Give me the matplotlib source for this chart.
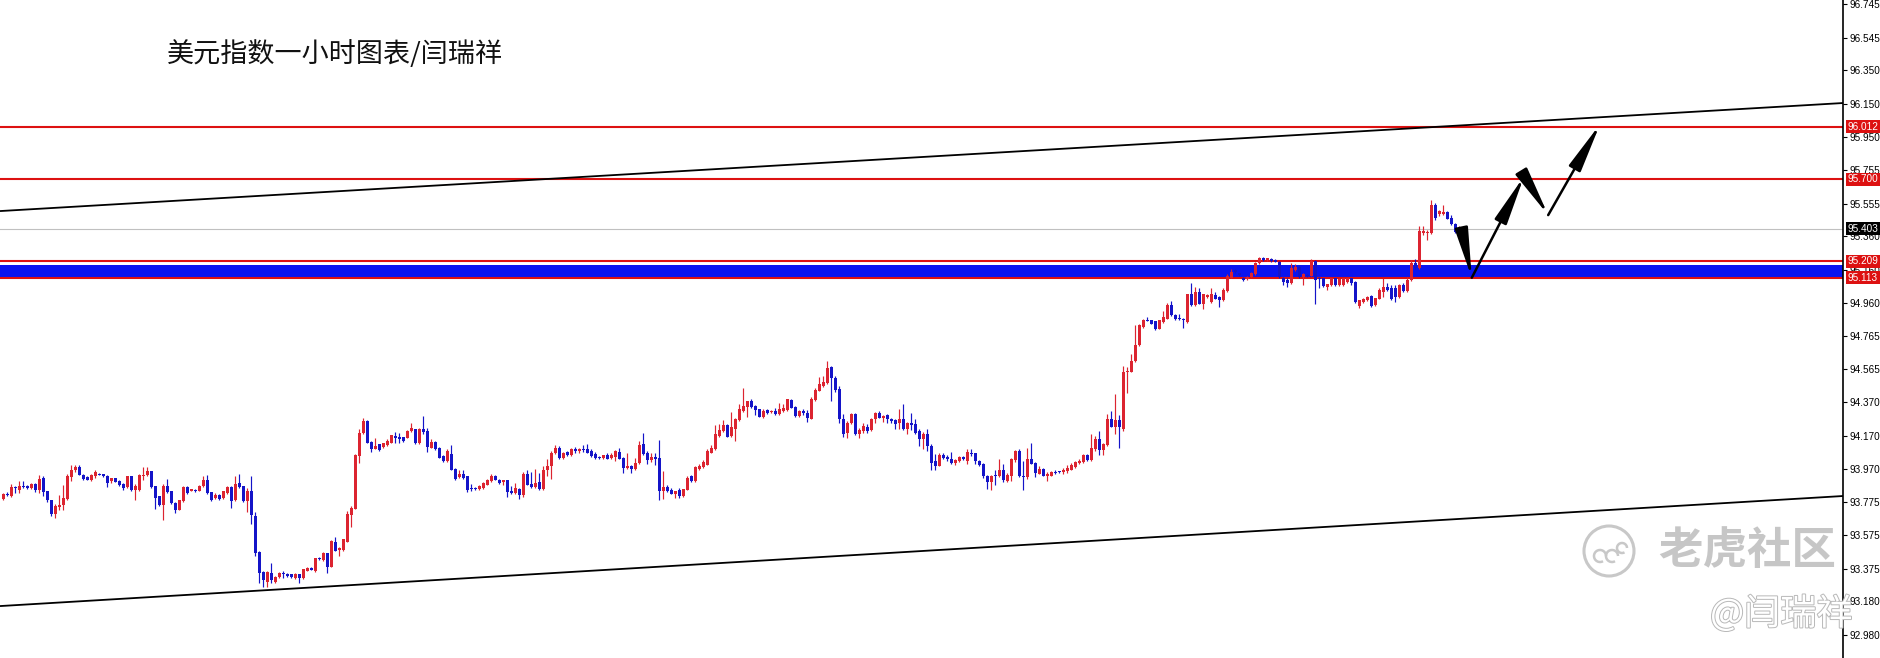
import matplotlib
matplotlib.use('Agg')
import matplotlib.pyplot as plt
from matplotlib import font_manager
from matplotlib.patches import Circle, FancyArrowPatch, Arc
import matplotlib.patheffects as pe
import matplotlib.transforms as mtransforms
import numpy as np

TITLE = "美元指数一小时图表/闫瑞祥"
WATERMARK = "老虎社区"
WATERMARK2 = "@闫瑞祥"

OPEN = [
93.791, 93.821, 93.811, 93.857, 93.847, 93.871, 93.871, 93.857, 93.883, 93.843,
93.917, 93.837, 93.783, 93.703, 93.741, 93.753, 93.793, 93.921, 93.963, 93.983,
93.937, 93.923, 93.907, 93.927, 93.943, 93.941, 93.931, 93.897, 93.915, 93.901,
93.883, 93.863, 93.927, 93.847, 93.847, 93.927, 93.933, 93.957, 93.867, 93.807,
93.757, 93.867, 93.837, 93.767, 93.727, 93.777, 93.863, 93.841, 93.847, 93.841,
93.867, 93.907, 93.831, 93.797, 93.817, 93.797, 93.827, 93.863, 93.783, 93.887,
93.867, 93.777, 93.841, 93.687, 93.477, 93.357, 93.297, 93.351, 93.297, 93.323,
93.347, 93.343, 93.341, 93.317, 93.341, 93.317, 93.363, 93.377, 93.361, 93.437,
93.427, 93.467, 93.387, 93.537, 93.487, 93.487, 93.537, 93.697, 93.733, 94.047,
94.183, 94.257, 94.131, 94.091, 94.117, 94.101, 94.113, 94.127, 94.167, 94.163,
94.159, 94.157, 94.197, 94.207, 94.123, 94.211, 94.197, 94.097, 94.131, 94.097,
94.047, 94.017, 94.057, 93.971, 93.923, 93.943, 93.927, 93.857, 93.853, 93.851,
93.857, 93.877, 93.897, 93.927, 93.907, 93.891, 93.903, 93.837, 93.827, 93.851,
93.817, 93.943, 93.883, 93.863, 93.891, 93.851, 93.963, 93.987, 94.063, 94.097,
94.037, 94.071, 94.051, 94.091, 94.077, 94.089, 94.091, 94.077, 94.057, 94.043,
94.033, 94.051, 94.037, 94.043, 94.071, 94.037, 93.977, 93.991, 93.971, 94.007,
94.117, 94.063, 94.023, 94.043, 94.037, 93.837, 93.863, 93.847, 93.823, 93.843,
93.807, 93.847, 93.927, 93.897, 93.971, 93.983, 93.997, 94.067, 94.087, 94.167,
94.197, 94.231, 94.167, 94.211, 94.263, 94.317, 94.343, 94.377, 94.347, 94.327,
94.283, 94.321, 94.311, 94.317, 94.297, 94.317, 94.323, 94.383, 94.343, 94.287,
94.317, 94.303, 94.271, 94.383, 94.437, 94.467, 94.483, 94.577, 94.511, 94.447,
94.271, 94.187, 94.243, 94.297, 94.177, 94.197, 94.223, 94.203, 94.267, 94.307,
94.277, 94.291, 94.267, 94.261, 94.243, 94.271, 94.211, 94.247, 94.237, 94.197,
94.147, 94.177, 94.107, 94.017, 93.991, 94.051, 94.043, 94.027, 94.007, 94.017,
94.043, 94.017, 94.067, 94.063, 94.017, 94.003, 93.931, 93.891, 93.931, 93.927,
93.963, 93.897, 93.931, 94.023, 94.077, 93.931, 93.923, 94.027, 94.007, 93.943,
93.971, 93.931, 93.931, 93.955, 93.953, 93.951, 93.957, 93.967, 93.983, 94.007,
94.011, 94.051, 94.023, 94.091, 94.147, 94.083, 94.111, 94.267, 94.223, 94.263,
94.207, 94.547, 94.551, 94.612, 94.708, 94.818, 94.862, 94.858, 94.852, 94.808,
94.848, 94.868, 94.952, 94.892, 94.872, 94.868, 94.848, 95.012, 94.948, 95.028,
94.958, 94.998, 94.968, 95.008, 94.998, 94.978, 95.032, 95.112, 95.158, 95.138,
95.112, 95.104, 95.118, 95.132, 95.198, 95.228, 95.218, 95.224, 95.218, 95.208,
95.112, 95.098, 95.078, 95.158, 95.178, 95.118, 95.128, 95.124, 95.212, 95.112,
95.108, 95.058, 95.068, 95.108, 95.068, 95.068, 95.084, 95.108, 95.088, 94.944,
94.968, 94.978, 95.004, 94.948, 94.988, 95.028, 95.058, 95.048, 95.052, 94.998,
95.068, 95.032, 95.098, 95.198, 95.168, 95.378, 95.378, 95.378, 95.548, 95.492,
95.492, 95.504, 95.468, 95.432, 95.384,
]

HIGH = [
93.827, 93.831, 93.883, 93.871, 93.897, 93.897, 93.875, 93.885, 93.887, 93.937,
93.927, 93.841, 93.787, 93.763, 93.817, 93.877, 93.943, 93.995, 93.997, 93.993,
93.941, 93.927, 93.941, 93.967, 93.947, 93.943, 93.935, 93.915, 93.919, 93.905,
93.887, 93.931, 93.931, 93.883, 93.943, 93.983, 93.983, 93.961, 93.871, 93.811,
93.883, 93.913, 93.841, 93.771, 93.787, 93.867, 93.867, 93.851, 93.851, 93.875,
93.927, 93.933, 93.835, 93.827, 93.821, 93.841, 93.867, 93.867, 93.927, 93.943,
93.871, 93.857, 93.927, 93.711, 93.481, 93.361, 93.361, 93.411, 93.331, 93.355,
93.363, 93.347, 93.345, 93.347, 93.345, 93.375, 93.385, 93.383, 93.441, 93.447,
93.477, 93.471, 93.547, 93.563, 93.507, 93.555, 93.717, 93.751, 94.061, 94.207,
94.277, 94.261, 94.135, 94.157, 94.121, 94.127, 94.147, 94.171, 94.193, 94.187,
94.163, 94.201, 94.243, 94.211, 94.213, 94.287, 94.217, 94.147, 94.135, 94.101,
94.051, 94.087, 94.111, 93.975, 93.963, 93.967, 93.931, 93.883, 93.861, 93.875,
93.891, 93.911, 93.943, 93.937, 93.911, 93.907, 93.907, 93.867, 93.887, 93.855,
93.951, 93.963, 93.951, 93.971, 93.947, 93.987, 94.031, 94.077, 94.111, 94.107,
94.071, 94.077, 94.095, 94.103, 94.095, 94.111, 94.117, 94.087, 94.071, 94.049,
94.055, 94.067, 94.067, 94.081, 94.097, 94.041, 94.063, 93.995, 94.037, 94.137,
94.187, 94.077, 94.067, 94.067, 94.143, 93.957, 93.877, 93.857, 93.839, 93.857,
93.853, 93.927, 93.937, 93.991, 94.003, 94.023, 94.087, 94.111, 94.231, 94.237,
94.263, 94.237, 94.311, 94.277, 94.357, 94.451, 94.377, 94.387, 94.351, 94.331,
94.327, 94.327, 94.321, 94.337, 94.363, 94.357, 94.391, 94.391, 94.347, 94.321,
94.331, 94.323, 94.403, 94.451, 94.517, 94.527, 94.617, 94.587, 94.527, 94.467,
94.297, 94.257, 94.307, 94.303, 94.217, 94.243, 94.237, 94.277, 94.311, 94.317,
94.291, 94.297, 94.277, 94.267, 94.327, 94.357, 94.251, 94.303, 94.271, 94.207,
94.191, 94.211, 94.117, 94.057, 94.067, 94.067, 94.051, 94.071, 94.031, 94.047,
94.047, 94.091, 94.087, 94.067, 94.023, 94.007, 93.935, 93.935, 93.967, 94.031,
94.003, 93.947, 94.037, 94.083, 94.091, 94.017, 94.097, 94.127, 94.011, 93.987,
93.977, 93.951, 93.957, 93.963, 93.961, 93.977, 93.997, 94.007, 94.017, 94.031,
94.057, 94.057, 94.177, 94.167, 94.197, 94.127, 94.297, 94.317, 94.417, 94.291,
94.583, 94.577, 94.657, 94.828, 94.838, 94.868, 94.878, 94.862, 94.856, 94.862,
94.912, 94.964, 94.972, 94.896, 94.898, 94.872, 95.016, 95.078, 95.058, 95.052,
95.016, 95.012, 95.052, 95.028, 95.002, 95.048, 95.132, 95.164, 95.164, 95.142,
95.118, 95.122, 95.148, 95.208, 95.238, 95.238, 95.232, 95.228, 95.222, 95.212,
95.118, 95.108, 95.198, 95.192, 95.182, 95.138, 95.132, 95.224, 95.216, 95.116,
95.112, 95.072, 95.112, 95.112, 95.108, 95.112, 95.112, 95.112, 95.092, 94.982,
94.992, 95.002, 95.008, 94.994, 95.048, 95.112, 95.078, 95.068, 95.068, 95.072,
95.078, 95.118, 95.218, 95.224, 95.418, 95.418, 95.398, 95.578, 95.558, 95.518,
95.548, 95.512, 95.488, 95.436, 95.418,
]

LOW = [
93.783, 93.807, 93.803, 93.827, 93.827, 93.857, 93.853, 93.853, 93.831, 93.827,
93.807, 93.775, 93.691, 93.677, 93.727, 93.723, 93.787, 93.897, 93.951, 93.933,
93.907, 93.903, 93.897, 93.917, 93.933, 93.925, 93.863, 93.887, 93.891, 93.871,
93.847, 93.857, 93.837, 93.787, 93.837, 93.907, 93.927, 93.857, 93.731, 93.751,
93.663, 93.827, 93.763, 93.707, 93.723, 93.773, 93.823, 93.837, 93.833, 93.837,
93.863, 93.823, 93.777, 93.793, 93.787, 93.793, 93.823, 93.737, 93.779, 93.857,
93.773, 93.711, 93.643, 93.451, 93.287, 93.267, 93.267, 93.287, 93.291, 93.317,
93.317, 93.327, 93.321, 93.311, 93.291, 93.313, 93.359, 93.365, 93.357, 93.427,
93.423, 93.351, 93.383, 93.479, 93.451, 93.483, 93.533, 93.627, 93.729, 94.007,
94.177, 94.123, 94.071, 94.087, 94.079, 94.097, 94.109, 94.123, 94.127, 94.127,
94.133, 94.153, 94.193, 94.119, 94.119, 94.177, 94.071, 94.093, 94.083, 94.033,
94.013, 94.013, 93.963, 93.907, 93.919, 93.913, 93.831, 93.837, 93.843, 93.847,
93.853, 93.873, 93.893, 93.905, 93.883, 93.877, 93.803, 93.823, 93.823, 93.791,
93.803, 93.873, 93.859, 93.859, 93.847, 93.847, 93.931, 93.911, 94.059, 94.031,
94.031, 94.047, 94.047, 94.067, 94.067, 94.071, 94.065, 94.043, 94.027, 94.029,
94.029, 94.029, 94.027, 94.017, 94.029, 93.947, 93.971, 93.947, 93.967, 94.003,
94.053, 94.003, 94.011, 93.997, 93.783, 93.791, 93.833, 93.821, 93.797, 93.797,
93.803, 93.843, 93.893, 93.893, 93.967, 93.979, 93.993, 94.063, 94.083, 94.163,
94.193, 94.159, 94.163, 94.137, 94.259, 94.313, 94.283, 94.337, 94.291, 94.279,
94.277, 94.297, 94.307, 94.293, 94.291, 94.313, 94.319, 94.333, 94.283, 94.283,
94.291, 94.251, 94.267, 94.379, 94.433, 94.457, 94.479, 94.377, 94.427, 94.247,
94.163, 94.157, 94.239, 94.173, 94.157, 94.187, 94.187, 94.199, 94.247, 94.273,
94.251, 94.247, 94.243, 94.207, 94.211, 94.203, 94.177, 94.203, 94.177, 94.107,
94.087, 94.077, 93.967, 93.967, 93.987, 94.027, 94.017, 94.003, 93.997, 94.013,
94.023, 94.003, 94.047, 94.003, 93.987, 93.917, 93.851, 93.843, 93.877, 93.923,
93.891, 93.893, 93.897, 94.011, 93.923, 93.843, 93.911, 93.999, 93.923, 93.939,
93.927, 93.897, 93.927, 93.943, 93.945, 93.943, 93.947, 93.963, 93.979, 94.003,
94.007, 94.019, 94.019, 94.077, 94.051, 94.051, 94.107, 94.219, 94.177, 94.097,
94.197, 94.423, 94.547, 94.608, 94.704, 94.814, 94.852, 94.834, 94.798, 94.804,
94.844, 94.864, 94.884, 94.858, 94.860, 94.812, 94.844, 94.944, 94.944, 94.954,
94.924, 94.994, 94.964, 94.984, 94.938, 94.974, 95.028, 95.108, 95.142, 95.124,
95.094, 95.100, 95.114, 95.128, 95.194, 95.214, 95.214, 95.208, 95.204, 95.108,
95.068, 95.058, 95.074, 95.154, 95.112, 95.068, 95.118, 95.120, 94.958, 95.048,
95.058, 95.038, 95.064, 95.064, 95.064, 95.064, 95.080, 95.068, 94.964, 94.932,
94.964, 94.974, 94.938, 94.944, 94.984, 94.998, 95.034, 94.978, 94.968, 94.994,
95.028, 95.024, 95.094, 95.164, 95.164, 95.368, 95.338, 95.374, 95.458, 95.478,
95.488, 95.462, 95.428, 95.378, 95.380,
]

CLOSE = [
93.821, 93.813, 93.863, 93.855, 93.871, 93.863, 93.857, 93.883, 93.843, 93.913,
93.831, 93.783, 93.703, 93.751, 93.757, 93.797, 93.927, 93.963, 93.983, 93.937,
93.911, 93.907, 93.935, 93.951, 93.935, 93.927, 93.887, 93.915, 93.893, 93.877,
93.857, 93.927, 93.843, 93.871, 93.933, 93.937, 93.957, 93.863, 93.797, 93.757,
93.867, 93.831, 93.767, 93.727, 93.783, 93.863, 93.827, 93.847, 93.837, 93.871,
93.907, 93.827, 93.787, 93.817, 93.791, 93.837, 93.863, 93.777, 93.883, 93.863,
93.777, 93.837, 93.697, 93.467, 93.351, 93.307, 93.357, 93.307, 93.327, 93.351,
93.341, 93.331, 93.323, 93.343, 93.321, 93.371, 93.381, 93.369, 93.437, 93.431,
93.467, 93.387, 93.541, 93.483, 93.497, 93.551, 93.701, 93.737, 94.051, 94.187,
94.257, 94.123, 94.091, 94.107, 94.083, 94.123, 94.137, 94.171, 94.157, 94.151,
94.137, 94.197, 94.217, 94.123, 94.211, 94.191, 94.103, 94.131, 94.087, 94.037,
94.017, 94.077, 93.967, 93.911, 93.943, 93.917, 93.847, 93.851, 93.851, 93.871,
93.887, 93.907, 93.927, 93.907, 93.887, 93.903, 93.831, 93.827, 93.857, 93.817,
93.943, 93.877, 93.863, 93.887, 93.851, 93.967, 93.987, 94.067, 94.097, 94.037,
94.067, 94.051, 94.091, 94.077, 94.091, 94.085, 94.067, 94.047, 94.037, 94.035,
94.051, 94.031, 94.051, 94.077, 94.031, 93.977, 93.991, 93.971, 94.007, 94.111,
94.057, 94.023, 94.043, 94.031, 93.837, 93.863, 93.837, 93.823, 93.837, 93.807,
93.851, 93.917, 93.897, 93.983, 93.991, 94.011, 94.077, 94.097, 94.177, 94.203,
94.231, 94.163, 94.223, 94.271, 94.327, 94.347, 94.377, 94.341, 94.323, 94.283,
94.317, 94.303, 94.317, 94.297, 94.327, 94.337, 94.387, 94.337, 94.287, 94.317,
94.307, 94.277, 94.391, 94.443, 94.477, 94.487, 94.571, 94.511, 94.443, 94.267,
94.177, 94.243, 94.297, 94.177, 94.203, 94.227, 94.197, 94.267, 94.303, 94.277,
94.287, 94.267, 94.257, 94.237, 94.271, 94.211, 94.247, 94.231, 94.187, 94.147,
94.177, 94.107, 94.007, 93.991, 94.051, 94.037, 94.027, 94.007, 94.023, 94.043,
94.031, 94.071, 94.057, 94.017, 93.997, 93.927, 93.891, 93.931, 93.927, 93.967,
93.907, 93.937, 94.027, 94.077, 93.927, 93.923, 94.027, 94.003, 93.947, 93.971,
93.931, 93.943, 93.951, 93.947, 93.951, 93.967, 93.977, 93.997, 94.011, 94.017,
94.051, 94.023, 94.097, 94.151, 94.083, 94.117, 94.267, 94.223, 94.263, 94.223,
94.551, 94.557, 94.617, 94.712, 94.828, 94.858, 94.854, 94.838, 94.804, 94.858,
94.878, 94.952, 94.888, 94.864, 94.864, 94.858, 95.012, 94.948, 95.028, 94.958,
95.012, 95.008, 95.012, 94.988, 94.978, 95.038, 95.124, 95.148, 95.144, 95.128,
95.098, 95.118, 95.138, 95.198, 95.228, 95.218, 95.228, 95.212, 95.208, 95.118,
95.088, 95.078, 95.168, 95.178, 95.118, 95.132, 95.124, 95.212, 95.098, 95.104,
95.064, 95.072, 95.108, 95.068, 95.104, 95.108, 95.108, 95.078, 94.968, 94.978,
94.988, 94.998, 94.944, 94.992, 95.038, 95.058, 95.038, 94.988, 94.998, 95.068,
95.032, 95.098, 95.198, 95.168, 95.392, 95.392, 95.384, 95.548, 95.468, 95.508,
95.504, 95.464, 95.432, 95.384, 95.403,
]

Y_TICKS = [96.745, 96.545, 96.350, 96.150, 95.950, 95.755, 95.555, 95.360, 95.160,
           94.960, 94.765, 94.565, 94.370, 94.170, 93.970, 93.775, 93.575, 93.375,
           93.180, 92.980]
RED_LEVELS = [96.012, 95.700, 95.209, 95.113]
CURRENT_PRICE = 95.403
ZONE = (95.113, 95.188)
UPPER_CHANNEL = (95.510, 96.155)   # price at left edge, price at right edge
LOWER_CHANNEL = (93.152, 93.809)
PATH_BARS = [364.6, 367.1, 380.2, 386.2, 399.2]
PATH_PRICES = [95.397, 95.112, 95.719, 95.486, 96.030]

RED = '#DC2430'
BLUE = '#1414C8'
LINE_RED = '#DD1111'
ZONE_BLUE = '#0A14F0'

W, H = 1881, 658
fig = plt.figure(figsize=(W / 100, H / 100), dpi=100)
fig.patch.set_facecolor('white')
AX_R = 1843
ax = fig.add_axes([0, 0, AX_R / W, 1])
ax.set_facecolor('white')

n = min(len(OPEN), len(HIGH), len(LOW), len(CLOSE))
o = np.array(OPEN[:n]); h = np.array(HIGH[:n]); l = np.array(LOW[:n]); c = np.array(CLOSE[:n])
x = np.arange(n)

ax.set_xlim(-0.825, 459.9)
ax.set_ylim(92.842, 96.770)

# zone and levels
ax.axhspan(ZONE[0], ZONE[1], color=ZONE_BLUE, lw=0, zorder=1)
for lv in RED_LEVELS:
    ax.axhline(lv, color=LINE_RED, lw=1.5, zorder=2)
ax.axhline(CURRENT_PRICE, color='#C0C0C0', lw=0.8, zorder=2)

# channel lines
x0, x1 = ax.get_xlim()
ax.plot([x0, x1], UPPER_CHANNEL, color='black', lw=1.3, zorder=6, solid_capstyle='butt')
ax.plot([x0, x1], LOWER_CHANNEL, color='black', lw=1.3, zorder=6, solid_capstyle='butt')

# candles
up = c >= o
cols = np.where(up, RED, BLUE)
ax.vlines(x, l, h, colors=cols, lw=0.85, zorder=4)
body_bottom = np.minimum(o, c)
body_h = np.maximum(np.abs(c - o), 0.007)
ax.bar(x, body_h, bottom=body_bottom, width=0.7, color=cols, linewidth=0, zorder=5)

# forecast arrows
for i in range(len(PATH_BARS) - 1):
    ar = FancyArrowPatch((PATH_BARS[i], PATH_PRICES[i]), (PATH_BARS[i + 1], PATH_PRICES[i + 1]),
                         arrowstyle='-|>,head_length=1.5,head_width=0.2', mutation_scale=20,
                         lw=1.8, color='black', shrinkA=0, shrinkB=0, zorder=12)
    ax.add_patch(ar)

# axes styling
for s in ['left', 'top', 'bottom']:
    ax.spines[s].set_visible(False)
ax.spines['right'].set_color('black')
ax.spines['right'].set_linewidth(1.2)
ax.set_xticks([])
ax.yaxis.tick_right()
ax.set_yticks(Y_TICKS)
ax.set_yticklabels([f'{v:.3f}' for v in Y_TICKS])

names = {f.name for f in font_manager.fontManager.ttflist}
if 'Liberation Sans Narrow' in names:
    lab_family, lab_size = 'Liberation Sans Narrow', 8
else:
    lab_family, lab_size = 'Liberation Sans', 7.2
ax.tick_params(axis='y', length=3, width=0.8, pad=1.5, labelsize=lab_size, colors='black', direction='out')
for t in ax.get_yticklabels():
    t.set_fontfamily(lab_family)

trans = mtransforms.blended_transform_factory(ax.transAxes, ax.transData)
for lv in RED_LEVELS:
    ax.text(1.0 + 5 / AX_R, lv, f'{lv:.3f}', transform=trans, color='white', fontsize=lab_size,
            family=lab_family, va='center', ha='left', clip_on=False, zorder=20,
            bbox=dict(boxstyle='square,pad=0.15', fc=LINE_RED, ec='none'))
ax.text(1.0 + 5 / AX_R, CURRENT_PRICE, f'{CURRENT_PRICE:.3f}', transform=trans, color='white',
        fontsize=lab_size, family=lab_family, va='center', ha='left', clip_on=False, zorder=20,
        bbox=dict(boxstyle='square,pad=0.15', fc='black', ec='none'))

# title
cjk = ['Noto Sans CJK SC', 'DejaVu Sans']
fig.text(167 / W, 1 - 54 / H, TITLE, family=cjk, fontsize=19.5, color='#111111', ha='left', va='center')

# watermark
fig.text(1658 / W, 1 - 551 / H, WATERMARK, family=cjk, fontsize=32, fontweight='bold',
         color='#c6c6c6', ha='left', va='center', zorder=30)
fig.text(1710 / W, 1 - 614 / H, WATERMARK2, family=cjk, fontsize=26, color='white',
         ha='left', va='center', zorder=30,
         path_effects=[pe.withStroke(linewidth=1.4, foreground='#b8b8b8')])
logo = Circle((1609, H - 551), 25, transform=None, fill=False, ec='#c8c8c8', lw=2.2, zorder=30)
fig.add_artist(logo)
for cx, cy, r in [(1600, H - 556, 6), (1612, H - 556, 6), (1622, H - 548, 5)]:
    fig.add_artist(Arc((cx, cy), 2 * r, 2 * r, theta1=0, theta2=300, transform=None,
                       ec='#c8c8c8', lw=1.8, zorder=30))

fig.savefig('out.png', dpi=100, facecolor='white')
